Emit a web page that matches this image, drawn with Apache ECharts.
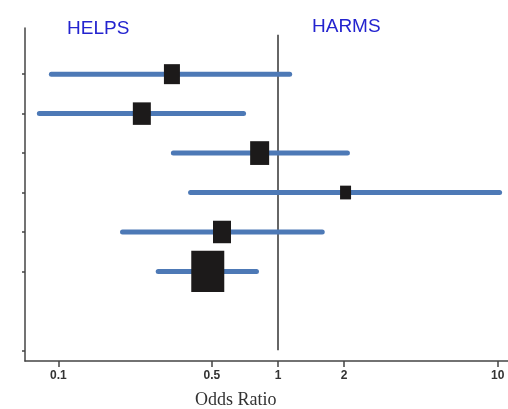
<!DOCTYPE html>
<html>
<head>
<meta charset="utf-8">
<script src="https://cdn.jsdelivr.net/npm/echarts@6/dist/echarts.min.js"></script>
<style>
  html, body { margin: 0; padding: 0; background: #fff; }
  #main { width: 508px; height: 409px; }
</style>
</head>
<body>
<div id="main"></div>
<script>
// rows from top to bottom
var rows = [1, 2, 3, 4, 5, 6];
var oddsRatio = [0.329, 0.240, 0.825, 2.03, 0.556, 0.479];
var lowerCI = [0.093, 0.082, 0.334, 0.400, 0.196, 0.285];
var upperCI = [1.13, 0.697, 2.07, 10.2, 1.59, 0.798];
var weights = [16, 18, 19, 11, 18, 33];

var tickValues = [0.1, 0.5, 1, 2, 10];
var tickLabels = ['0.1', '0.5', '1', '2', '10'];
var rowTicks = [1, 2, 3, 4, 5, 6, 8];

var lg = Math.log10;
var ciData = rows.map(function (r, i) { return [lg(lowerCI[i]), lg(upperCI[i]), r]; });
var ptData = rows.map(function (r, i) { return [lg(oddsRatio[i]), r, weights[i]]; });

var myChart = echarts.init(document.getElementById('main'));
myChart.setOption({
  animation: false,
  grid: { left: 25, right: 0, top: 28, bottom: 48 },
  xAxis: {
    type: 'value',
    position: 'bottom',
    min: -1.1516,
    max: 1.0469,
    splitLine: { show: false },
    axisLine: { onZero: false, lineStyle: { color: '#444', width: 1.5 } },
    axisTick: {
      customValues: tickValues.map(lg),
      length: 6,
      lineStyle: { color: '#444', width: 1.5 }
    },
    axisLabel: {
      customValues: tickValues.map(lg),
      formatter: function (v) {
        var i = tickValues.findIndex(function (t) { return Math.abs(lg(t) - v) < 1e-6; });
        return i >= 0 ? tickLabels[i] : '';
      },
      margin: 9,
      color: '#333',
      fontSize: 12,
      fontWeight: 'bold',
      fontFamily: 'Liberation Sans'
    }
  },
  yAxis: {
    type: 'value',
    position: 'left',
    inverse: true,
    min: -0.17,
    max: 8.27,
    splitLine: { show: false },
    axisLine: { show: true, onZero: false, lineStyle: { color: '#444', width: 1.5 } },
    axisTick: {
      show: true,
      customValues: rowTicks,
      length: 3,
      lineStyle: { color: '#444', width: 1.5 }
    },
    axisLabel: { show: false }
  },
  graphic: [
    { type: 'text', left: 67, top: 19, style: { text: 'HELPS', fill: '#2323cf', font: '19px "Liberation Sans"' } },
    { type: 'text', left: 312, top: 17, style: { text: 'HARMS', fill: '#2323cf', font: '19px "Liberation Sans"' } },
    { type: 'text', left: 195, top: 391, style: { text: 'Odds Ratio', fill: '#333', font: '18px "Liberation Serif"' } }
  ],
  series: [
    {
      type: 'line',
      data: [[0, 0], [0, 8]],
      symbol: 'none',
      lineStyle: { color: '#333', width: 1.5 },
      z: 1
    },
    {
      type: 'custom',
      data: ciData,
      encode: { x: [0, 1], y: 2 },
      renderItem: function (params, api) {
        var a = api.coord([api.value(0), api.value(2)]);
        var b = api.coord([api.value(1), api.value(2)]);
        return {
          type: 'line',
          shape: { x1: a[0], y1: a[1], x2: b[0], y2: b[1] },
          style: { stroke: '#4d79b6', lineWidth: 5, lineCap: 'round' }
        };
      },
      z: 2
    },
    {
      type: 'scatter',
      data: ptData,
      symbol: 'rect',
      symbolSize: function (d) { return [d[2], d[2] * 1.25]; },
      itemStyle: { color: '#1c1a1a', opacity: 1 },
      z: 3
    }
  ]
});
</script>
</body>
</html>
